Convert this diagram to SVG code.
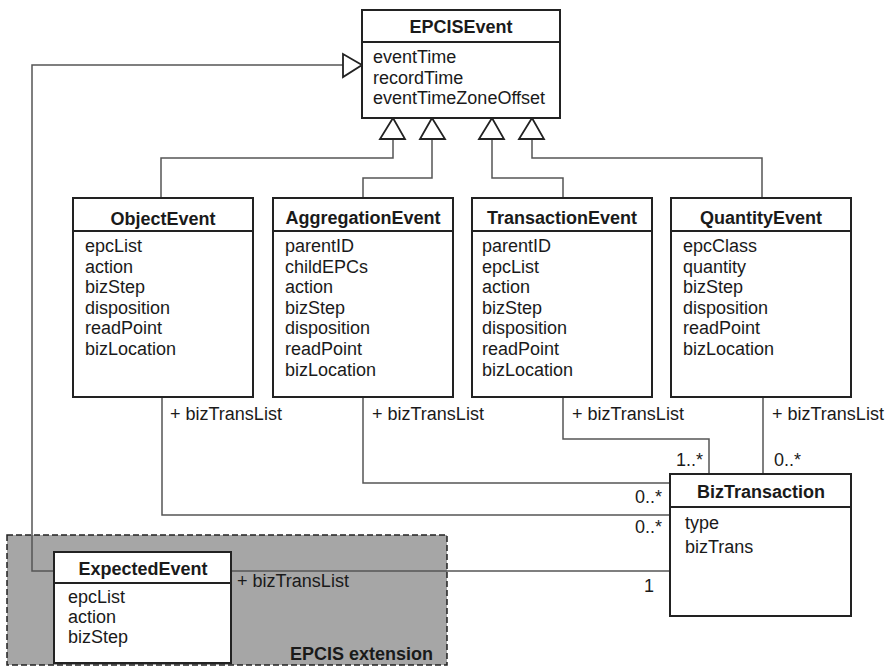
<svg xmlns="http://www.w3.org/2000/svg" width="889" height="666" viewBox="0 0 889 666">
<defs>
<style>
text{font-family:"Liberation Sans",Arial,sans-serif;font-size:18px;fill:#1a1a1a}
.t{font-weight:bold;text-anchor:middle}
.box{fill:#fff;stroke:#222;stroke-width:2}
.sep{stroke:#222;stroke-width:2}
.c{fill:none;stroke:#555;stroke-width:1.5}
.tri{fill:#fff;stroke:#222;stroke-width:1.8;stroke-linejoin:miter}
.end{text-anchor:end}
</style>
</defs>
<rect width="889" height="666" fill="#fff"/>
<g id="ext">
<rect x="7" y="535" width="440" height="130" fill="#a6a6a6" stroke="#222" stroke-width="1.5" stroke-dasharray="6,3"/>
<text x="433" y="660" class="end" font-weight="bold">EPCIS extension</text>
</g>
<g id="connectors">
<path class="c" d="M54 571H32V65H343"/>
<path class="c" d="M393 139V158H161V198"/>
<path class="c" d="M432 139V178H363V198"/>
<path class="c" d="M492 139V178H563V198"/>
<path class="c" d="M532 139V158H762V198"/>
<path class="c" d="M162 397V515H670"/>
<path class="c" d="M363 397V483H670"/>
<path class="c" d="M563 397V439H709V474"/>
<path class="c" d="M763 397V474"/>
<path class="c" d="M231 571H670"/>
<polygon class="tri" points="362,65 343,54 343,77"/>
<polygon class="tri" points="393,118 380,139 405,139"/>
<polygon class="tri" points="432,118 420,139 445,139"/>
<polygon class="tri" points="492,118 479,139 504,139"/>
<polygon class="tri" points="532,118 519,139 544,139"/>
<text x="170" y="420">+ bizTransList</text>
<text x="372" y="420">+ bizTransList</text>
<text x="572" y="420">+ bizTransList</text>
<text x="772" y="420">+ bizTransList</text>
<text x="237" y="587">+ bizTransList</text>
<text x="703" y="466" class="end">1..*</text>
<text x="774" y="466">0..*</text>
<text x="662" y="503" class="end">0..*</text>
<text x="662" y="533" class="end">0..*</text>
<text x="654" y="592" class="end">1</text>
</g>
<g id="EPCISEvent">
<rect class="box" x="362" y="10" width="198" height="108"/>
<line class="sep" x1="362" y1="42" x2="560" y2="42"/>
<text x="461" y="33" class="t">EPCISEvent</text>
<text x="373" y="63">eventTime</text>
<text x="373" y="84">recordTime</text>
<text x="373" y="104">eventTimeZoneOffset</text>
</g>
<g id="ObjectEvent">
<rect class="box" x="73" y="198" width="180" height="199"/>
<line class="sep" x1="73" y1="231" x2="253" y2="231"/>
<text x="163" y="225" class="t">ObjectEvent</text>
<text x="85" y="252">epcList</text>
<text x="85" y="273">action</text>
<text x="85" y="293">bizStep</text>
<text x="85" y="314">disposition</text>
<text x="85" y="334">readPoint</text>
<text x="85" y="355">bizLocation</text>
</g>
<g id="AggregationEvent">
<rect class="box" x="273" y="198" width="180" height="199"/>
<line class="sep" x1="273" y1="231" x2="453" y2="231"/>
<text x="363" y="224" class="t">AggregationEvent</text>
<text x="285" y="252">parentID</text>
<text x="285" y="273">childEPCs</text>
<text x="285" y="293">action</text>
<text x="285" y="314">bizStep</text>
<text x="285" y="334">disposition</text>
<text x="285" y="355">readPoint</text>
<text x="285" y="376">bizLocation</text>
</g>
<g id="TransactionEvent">
<rect class="box" x="472" y="198" width="180" height="199"/>
<line class="sep" x1="472" y1="231" x2="652" y2="231"/>
<text x="562" y="224" class="t">TransactionEvent</text>
<text x="482" y="252">parentID</text>
<text x="482" y="273">epcList</text>
<text x="482" y="293">action</text>
<text x="482" y="314">bizStep</text>
<text x="482" y="334">disposition</text>
<text x="482" y="355">readPoint</text>
<text x="482" y="376">bizLocation</text>
</g>
<g id="QuantityEvent">
<rect class="box" x="671" y="198" width="180" height="199"/>
<line class="sep" x1="671" y1="231" x2="851" y2="231"/>
<text x="761" y="224" class="t">QuantityEvent</text>
<text x="683" y="252">epcClass</text>
<text x="683" y="273">quantity</text>
<text x="683" y="293">bizStep</text>
<text x="683" y="314">disposition</text>
<text x="683" y="334">readPoint</text>
<text x="683" y="355">bizLocation</text>
</g>
<g id="BizTransaction">
<rect class="box" x="670" y="474" width="181" height="142"/>
<line class="sep" x1="670" y1="507" x2="851" y2="507"/>
<text x="761" y="498" class="t">BizTransaction</text>
<text x="685" y="529">type</text>
<text x="685" y="553">bizTrans</text>
</g>
<g id="ExpectedEvent">
<rect class="box" x="54" y="552" width="177" height="111"/>
<line class="sep" x1="54" y1="583" x2="231" y2="583"/>
<text x="143" y="575" class="t">ExpectedEvent</text>
<text x="68" y="603">epcList</text>
<text x="68" y="623">action</text>
<text x="68" y="643">bizStep</text>
</g>
</svg>
